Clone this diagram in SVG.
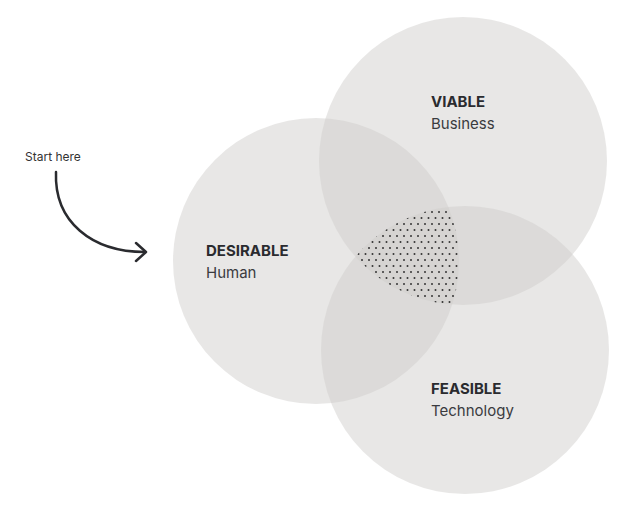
<svg xmlns="http://www.w3.org/2000/svg" width="637" height="508" viewBox="0 0 637 508">
<style>
.c{fill:#cfcdcb;fill-opacity:0.48}
.b{font-family:"Inter","Liberation Sans",sans-serif;font-weight:700;font-size:15px;fill:#2a2b2f}
.r{font-family:"Inter","Liberation Sans",sans-serif;font-size:15px;fill:#3a3b3f}
</style>
<defs>
<pattern id="dots" width="7" height="12" patternUnits="userSpaceOnUse">
<circle cx="1.5" cy="2" r="1" fill="#333"/>
<circle cx="5" cy="8" r="1" fill="#333"/>
</pattern>
<clipPath id="cA"><circle cx="316" cy="261" r="143"/></clipPath>
<clipPath id="cB"><circle cx="463" cy="161" r="144"/></clipPath>
<clipPath id="cC"><circle cx="465" cy="350" r="144"/></clipPath>
</defs>
<rect width="637" height="508" fill="#fff"/>
<g id="desirable"><circle class="c" cx="316" cy="261" r="143"/><text class="b" x="206" y="256">DESIRABLE</text><text class="r" x="206" y="278">Human</text></g>
<g id="viable"><circle class="c" cx="463" cy="161" r="144"/><text class="b" x="431" y="107">VIABLE</text><text class="r" x="431" y="129">Business</text></g>
<g id="feasible"><circle class="c" cx="465" cy="350" r="144"/><text class="b" x="431" y="394">FEASIBLE</text><text class="r" x="431" y="416">Technology</text></g>
<g id="core" clip-path="url(#cA)"><g clip-path="url(#cB)"><rect x="300" y="150" width="200" height="200" fill="url(#dots)" clip-path="url(#cC)"/></g></g>
<g id="start"><text x="25" y="161" font-family="Inter,'Liberation Sans',sans-serif" font-size="12" fill="#333">Start here</text></g>
<g id="connectors" fill="none" stroke="#2a2b2f" stroke-width="2.5" stroke-linecap="round" stroke-linejoin="round">
<path d="M56,172 C54,222 92,252 145,252"/>
<path d="M136,243 L146,252 L136,261"/>
</g>
</svg>
